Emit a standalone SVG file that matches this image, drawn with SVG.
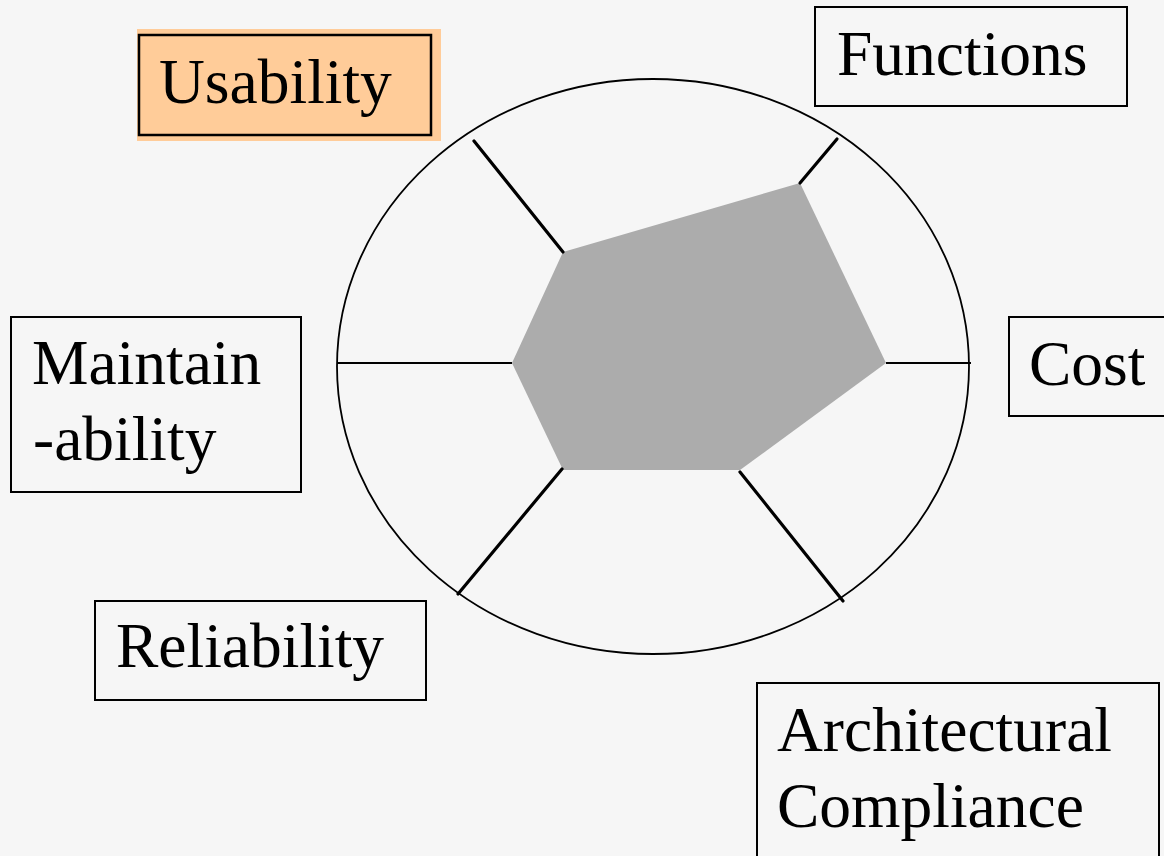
<svg xmlns="http://www.w3.org/2000/svg" width="1164" height="856" viewBox="0 0 1164 856">
  <style>
    .box { fill: none; stroke: #000; stroke-width: 2; }
    .label { font-family: "Liberation Serif", "Times New Roman", serif; font-size: 63.5px; fill: #000; }
    .spoke { stroke: #000; stroke-width: 3.2; stroke-linecap: round; }
    .axis { stroke: #000; stroke-width: 2; }
  </style>
  <rect x="0" y="0" width="1164" height="856" fill="#f6f6f6"/>

  <!-- outer boundary of the radar chart -->
  <ellipse id="boundary" cx="653" cy="366.5" rx="316" ry="287.5" fill="none" stroke="#000" stroke-width="1.8"/>

  <!-- score polygon -->
  <polygon id="score" points="563,252 800,183 886,363 740,470 563,470 512,363" fill="#acacac"/>

  <!-- axes from polygon corners out to the boundary -->
  <g id="connectors">
    <line class="axis" x1="337" y1="363" x2="512" y2="363"/>
    <line class="axis" x1="886" y1="363" x2="971" y2="363"/>
    <line class="spoke" x1="563" y1="252" x2="474" y2="141"/>
    <line class="spoke" x1="800" y1="183" x2="837" y2="139"/>
    <line class="spoke" x1="562" y1="469" x2="458" y2="594"/>
    <line class="spoke" x1="740" y1="472" x2="843" y2="601"/>
  </g>

  <g id="usability">
    <rect x="137" y="29" width="304" height="112" fill="#ffcc99"/>
    <rect x="139" y="35" width="292" height="100" fill="none" stroke="#000" stroke-width="2.5"/>
    <text class="label" x="159" y="103">Usability</text>
  </g>

  <g id="functions">
    <rect class="box" x="815" y="7" width="312" height="99"/>
    <text class="label" x="837" y="75">Functions</text>
  </g>

  <g id="maintainability">
    <rect class="box" x="11" y="317" width="290" height="175"/>
    <text class="label" x="32" y="384">Maintain</text>
    <text class="label" x="33" y="460">-ability</text>
  </g>

  <g id="cost">
    <rect class="box" x="1009" y="317" width="170" height="99"/>
    <text class="label" x="1029" y="385">Cost</text>
  </g>

  <g id="reliability">
    <rect class="box" x="95" y="601" width="331" height="99"/>
    <text class="label" x="116" y="667">Reliability</text>
  </g>

  <g id="architectural-compliance">
    <rect class="box" x="757" y="683" width="402" height="190"/>
    <text class="label" x="777" y="751">Architectural</text>
    <text class="label" x="777" y="827">Compliance</text>
  </g>
</svg>
